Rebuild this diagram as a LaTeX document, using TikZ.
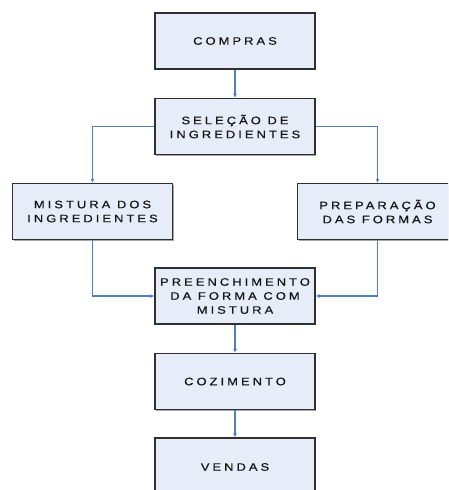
\documentclass[tikz,border=0pt]{standalone}
\usepackage{fontspec}
\setmainfont{Liberation Sans}[LetterSpace=28, FakeStretch=1.2, FakeBold=0.5]
\usetikzlibrary{arrows.meta,shadows}
\definecolor{boxfill}{HTML}{E6EDF8}
\definecolor{boxline}{HTML}{303030}
\definecolor{conn}{HTML}{4F81BD}
\definecolor{txt}{HTML}{151515}
\tikzset{
  stepbox/.style={rectangle, draw=boxline, line width=1.3pt, fill=boxfill,
    minimum width=160pt, minimum height=56pt, inner sep=0pt, align=center,
    text=txt, font=\fontsize{10.8}{14}\selectfont,
    drop shadow={shadow xshift=1pt, shadow yshift=-1pt, fill=gray!70, opacity=1}},
  conn/.style={draw=conn, line width=1.2pt, -{Latex[length=4pt,width=4pt]}}
}
\begin{document}
\begin{tikzpicture}[x=1pt,y=-1pt]
\clip (0,0) rectangle (448,490);
\fill[white] (0,0) rectangle (448,490);
\node[stepbox] (compras) at (235,41) {COMPRAS};
\node[stepbox] (selecao) at (235,126.5) {SELEÇÃO DE\\INGREDIENTES};
\node[stepbox] (mistura) at (92.5,211.5) {MISTURA DOS\\INGREDIENTES};
\node[stepbox] (prep) at (377.5,211.5) {PREPARAÇÃO\\DAS FORMAS};
\node[stepbox] (preench) at (235,296) {PREENCHIMENTO\\DA FORMA COM\\MISTURA};
\node[stepbox] (coz) at (235,381.5) {COZIMENTO};
\node[stepbox, minimum height=58pt] (vendas) at (235,467) {VENDAS};
\draw[conn] (compras.south) -- (selecao.north);
\draw[conn] (selecao.west) -| (mistura.north);
\draw[conn] (selecao.east) -| (prep.north);
\draw[conn] (mistura.south) |- (preench.west);
\draw[conn] (prep.south) |- (preench.east);
\draw[conn] (preench.south) -- (coz.north);
\draw[conn] (coz.south) -- (vendas.north);
\end{tikzpicture}
\end{document}
